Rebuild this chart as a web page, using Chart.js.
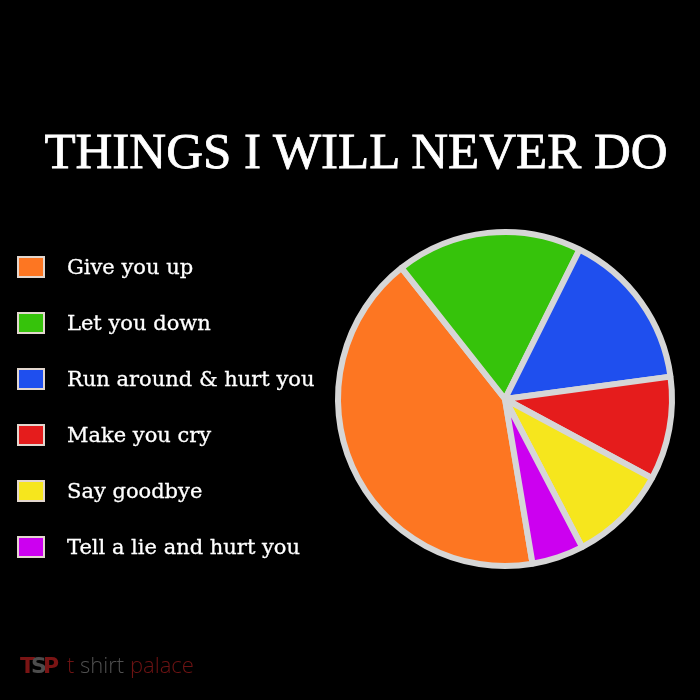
<!DOCTYPE html>
<html>
<head>
<meta charset="utf-8">
<script src="https://cdn.jsdelivr.net/npm/chart.js@4.4.1/dist/chart.umd.min.js"></script>
<style>
    html, body { margin: 0; padding: 0; background: #000; }
    #wrap { position: relative; width: 700px; height: 700px; background: #000; overflow: hidden; }
    #pieChart { position: absolute; left: 0; top: 0; }
    #title {
        position: absolute; left: 6px; width: 700px; top: 121px;
        text-align: center; color: #fff;
        font-family: 'Liberation Serif', serif; font-size: 51px; line-height: 60px;
        white-space: nowrap; -webkit-text-stroke: 0.8px #fff;
    }
    #legend { position: absolute; left: 17px; top: 239px; }
    .legend-row { height: 56px; display: flex; align-items: center; }
    .legend-box {
        width: 28px; height: 22px; box-sizing: border-box;
        border: 2px solid #e2d6ce; margin-right: 22px;
    }
    .legend-text {
        color: #fff; font-family: 'DejaVu Serif', serif; font-size: 21px;
        white-space: nowrap; -webkit-text-stroke: 0.3px #fff;
    }
    #mark { position: absolute; left: 20px; top: 649px; white-space: nowrap; }
    #logo {
        display: inline-block; width: 40px; font-family: 'DejaVu Sans', sans-serif;
        font-weight: bold; font-size: 22px; letter-spacing: -4px; color: #7a1414;
    }
    #logo span { color: #4d4d4d; }
    #brand { font-family: 'Open Sans', sans-serif; font-weight: 300; font-size: 22px; color: #6e1313; margin-left: 7px; }
    #brand span { color: #505050; }
</style>
</head>
<body>
<div id="wrap">
    <canvas id="pieChart" width="700" height="700"></canvas>
    <div id="title">THINGS I WILL NEVER DO</div>
    <div id="legend"></div>
    <div id="mark"><span id="logo">T<span>S</span>P</span><span id="brand">t <span>shirt</span> palace</span></div>
</div>
<script>
const labels = ['Give you up', 'Let you down', 'Run around & hurt you', 'Make you cry', 'Say goodbye', 'Tell a lie and hurt you'];
const values = [42, 18, 15.5, 10, 9.5, 5];
const colors = ['#fd7622', '#36c30b', '#1f4fee', '#e51c1c', '#f6e61d', '#cc00f0'];

const legendDiv = document.getElementById('legend');
labels.forEach(function(label, i) {
    const row = document.createElement('div');
    row.classList.add('legend-row');
    const box = document.createElement('div');
    box.classList.add('legend-box');
    box.style.background = colors[i];
    const text = document.createElement('div');
    text.classList.add('legend-text');
    text.textContent = label;
    row.appendChild(box);
    row.appendChild(text);
    legendDiv.appendChild(row);
});

const pieCtx = document.getElementById('pieChart').getContext('2d');

let pieChart = new Chart(pieCtx, {
    type: 'pie',
    data: {
        labels: labels,
        datasets: [{
            data: values,
            backgroundColor: colors,
            borderColor: '#d6d6d6',
            borderWidth: 6,
            hoverOffset: 0
        }]
    },
    options: {
        responsive: false,
        animation: false,
        rotation: 170.5,
        layout: {
            padding: { left: 335, right: 25, top: 229, bottom: 131 }
        },
        plugins: {
            legend: { display: false },
            tooltip: { enabled: false }
        }
    }
});
</script>
</body>
</html>
